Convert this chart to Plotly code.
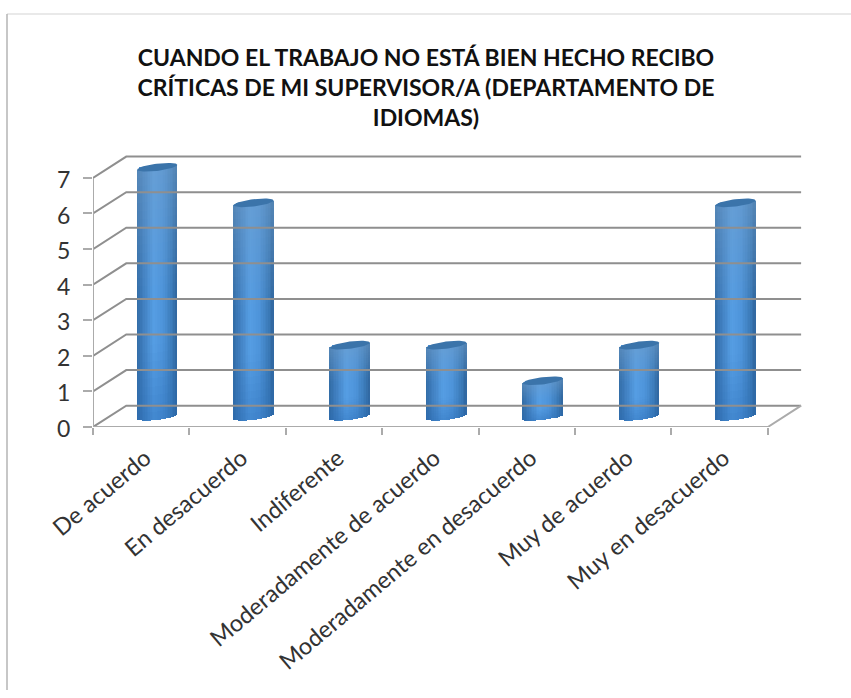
import numpy as np
import plotly.graph_objects as go

categories = ["De acuerdo", "En desacuerdo", "Indiferente", "Moderadamente de acuerdo",
              "Moderadamente en desacuerdo", "Muy de acuerdo", "Muy en desacuerdo"]
values = [7, 6, 2, 2, 1, 2, 6]
y_ticks = [0, 1, 2, 3, 4, 5, 6, 7]
title_lines = ["CUANDO EL TRABAJO NO ESTÁ BIEN HECHO RECIBO",
               "CRÍTICAS DE MI SUPERVISOR/A (DEPARTAMENTO DE",
               "IDIOMAS)"]

GRID = "#8f8f8f"
AXIS = "#ababab"
TEXT = "#333333"
FONT = "Lato"

# depth of the pseudo 3D box, in axis units
DX, DY = 0.345, 0.60
BAR_DX, BAR_DY = 0.166, 0.30
BAR_W = 0.415
EL_A, EL_TILT = 3.6 / 35.6, 2.4 / 35.6
X_MAX = 6.5 + DX + 0.03
Y_MAX = 7.7

W, H = 851, 698
L, R, T, B = 93, 47, 153, 271
def px(x): return (x - L) / (W - L - R)
def py(y): return (H - B - y) / (H - T - B)

common = dict(cliponaxis=False, showlegend=False, xaxis="x2", yaxis="y")
fig = go.Figure()

# invisible trace that carries the category axis
fig.add_trace(go.Scatter(x=categories, y=values, mode="markers", marker=dict(opacity=0),
                         hoverinfo="skip", showlegend=False, xaxis="x", yaxis="y"))

# back wall gridlines + side wall diagonals
for v in y_ticks:
    fig.add_trace(go.Scatter(
        x=[-0.5, -0.5 + DX, 6.5 + DX], y=[v, v + DY, v + DY],
        mode="lines", line=dict(color=GRID, width=2), hoverinfo="skip", **common))
# front frame: y axis line, x axis line, right floor edge
fig.add_trace(go.Scatter(
    x=[-0.5, -0.5, 6.5, 6.5 + DX], y=[7, 0, 0, DY], mode="lines",
    line=dict(color=AXIS, width=2), hoverinfo="skip", **common))

# value bars
xpos = [i + BAR_DX for i in range(len(values))]
fig.add_trace(go.Bar(x=xpos, y=values, base=BAR_DY, width=BAR_W * 0.9,
                     marker=dict(color="#4a90d6", line=dict(width=0)),
                     customdata=categories,
                     hovertemplate="%{customdata}: %{y}<extra></extra>", **common))

# cylinder shading mesh laid over the bars
stops_u = [0.0, 0.14, 0.42, 0.66, 0.88, 1.0]
stops_c = [(50, 108, 165), (62, 124, 188), (86, 158, 228), (78, 148, 218), (60, 124, 186), (48, 102, 158)]
NU, NF = 24, 30
mx, mb, my, mc = [], [], [], []
for i, v in enumerate(values):
    for k in range(NU):
        fu = (k + 0.5) / NU
        u = 2 * fu - 1
        c = np.array([np.interp(fu, stops_u, [s[n] for s in stops_c]) for n in range(3)])
        lower = EL_A * np.sqrt(max(0, 1 - u * u))
        bottom = BAR_DY + EL_TILT * u - lower
        height = v + lower
        for j in range(NF):
            ff = (j + 0.5) / NF
            if ff > 0.5:
                a = 0.5 * (ff - 0.5) / 0.5
                col = c * (1 - a) + np.array([118, 160, 200]) * a
            elif ff < 0.3:
                a = 0.4 * (0.3 - ff) / 0.3
                col = c * (1 - a) + np.array([38, 104, 178]) * a
            else:
                col = c
            mx.append(i + BAR_DX - BAR_W / 2 + fu * BAR_W)
            mb.append(bottom + height * j / NF)
            my.append(height / NF + (0.02 if j < NF - 1 else 0))
            mc.append("rgb(%d,%d,%d)" % tuple(col))
fig.add_trace(go.Bar(x=mx, y=my, base=mb, width=BAR_W / NU + 0.002,
                     marker=dict(color=mc, line=dict(width=0)),
                     hoverinfo="skip", **common))

# top ellipses
t = np.linspace(0, 2 * np.pi, 60)
for i, v in enumerate(values):
    fig.add_trace(go.Scatter(
        x=i + BAR_DX + BAR_W / 2 * np.cos(t),
        y=v + BAR_DY + EL_A * np.sin(t) + EL_TILT * np.cos(t),
        mode="lines", fill="toself", fillcolor="#3b74aa", line=dict(width=0),
        hoverinfo="skip", **common))

fig.update_layout(
    width=W, height=H, paper_bgcolor="white", plot_bgcolor="white",
    margin=dict(l=L, r=R, t=T, b=B, autoexpand=False),
    barmode="overlay", bargap=0, showlegend=False,
    font=dict(family=FONT, color=TEXT),
    title=dict(text="<br>".join(title_lines), x=426 / W, xanchor="center",
               y=1 - 66 / H, yanchor="top",
               font=dict(family=FONT, size=23, color="#111111", weight="bold")),
    xaxis=dict(type="category", categoryorder="array", categoryarray=categories,
               range=[-0.5, X_MAX], tickson="boundaries", ticks="outside", ticklen=7,
               tickcolor=AXIS, tickwidth=1.5, showline=False,
               showgrid=False, zeroline=False, tickangle=-40,
               ticklabelstandoff=12, ticklabelshift=4,
               tickfont=dict(family=FONT, size=23.5, color=TEXT)),
    xaxis2=dict(overlaying="x", range=[-0.5, X_MAX], visible=False, showgrid=False,
                zeroline=False),
    yaxis=dict(range=[0, Y_MAX], tickmode="array", tickvals=y_ticks,
               ticktext=[str(v) for v in y_ticks], ticks="outside", ticklen=9,
               tickcolor=AXIS, tickwidth=1.5, showline=False,
               showgrid=False, zeroline=False, ticklabelstandoff=8, ticklabelshift=2,
               tickfont=dict(family=FONT, size=23, color=TEXT)),
    shapes=[
        dict(type="line", xref="paper", yref="paper", x0=px(7), x1=px(W),
             y0=py(14), y1=py(14), line=dict(color="#e2e2e2", width=1.5)),
        dict(type="line", xref="paper", yref="paper", x0=px(7), x1=px(7),
             y0=py(690), y1=py(14), line=dict(color="#b5b5b5", width=1.5)),
    ],
)

fig.write_html("out.html", config=dict(displayModeBar=False),
               post_script="document.body.style.margin='0';")
